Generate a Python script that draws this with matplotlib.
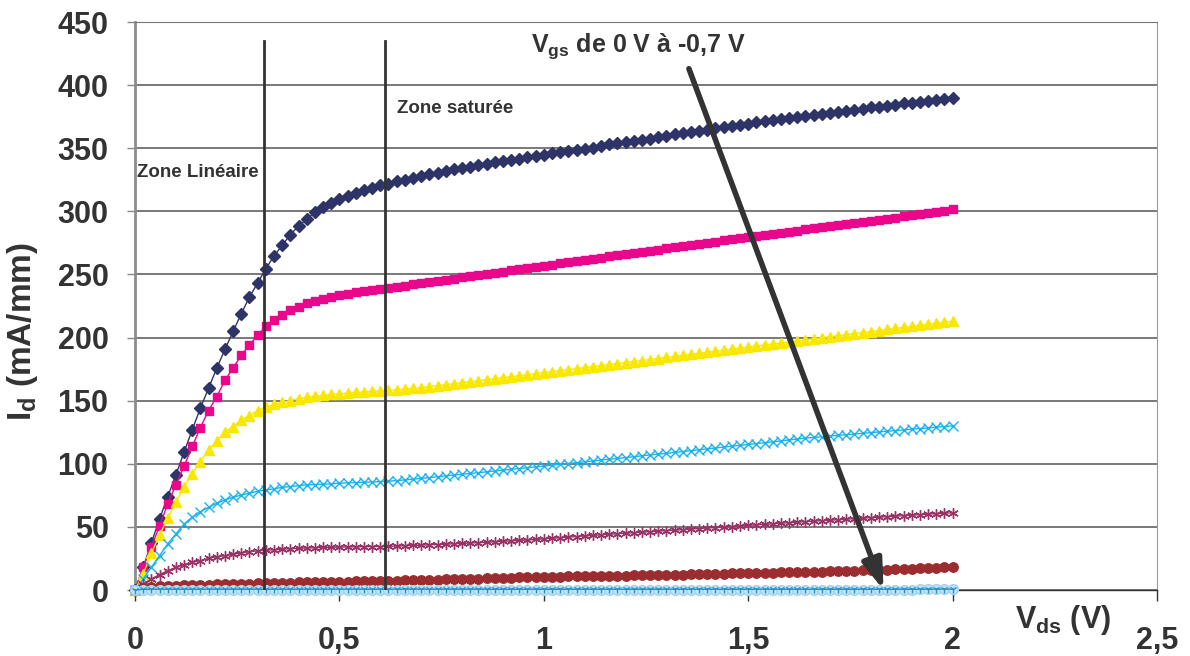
import numpy as np
import matplotlib.pyplot as plt

plt.rcParams['font.family'] = ['Liberation Sans', 'DejaVu Sans']
plt.rcParams['font.weight'] = 'bold'
plt.rcParams['axes.labelweight'] = 'bold'
plt.rcParams['mathtext.fontset'] = 'custom'
plt.rcParams['mathtext.rm'] = 'Liberation Sans:bold'
plt.rcParams['mathtext.bf'] = 'Liberation Sans:bold'

# Balayage en Vds (V), pas de 20 mV
vds = np.round(np.arange(0, 2.0001, 0.02), 2)

# Id (mA/mm) pour Vgs = 0 V ... -0,7 V
id_vgs_0 = [
    0, 18.0, 37.3, 56.3, 74.0, 91.2, 109.2, 126.9, 144.1, 159.9,
    175.8, 190.6, 204.9, 218.9, 232.1, 243.2, 254.6, 264.6, 273.1, 281.5,
    288.4, 293.7, 299.5, 303.7, 306.6, 309.8, 312.4, 314.8, 316.7, 318.8,
    320.5, 321.6, 323.7, 325.0, 326.3, 327.9, 329.2, 330.3, 332.1, 333.4,
    334.2, 335.5, 336.6, 337.6, 338.7, 339.5, 340.3, 341.8, 342.9, 343.9,
    345.0, 346.1, 346.8, 347.6, 348.7, 349.5, 350.5, 352.1, 353.2, 354.2,
    355.0, 356.1, 356.8, 357.6, 358.7, 359.8, 361.1, 362.1, 363.2, 363.9,
    364.7, 365.8, 366.6, 367.6, 368.4, 369.5, 370.5, 371.3, 372.1, 373.2,
    373.9, 375.0, 375.8, 376.1, 377.1, 377.9, 378.9, 379.7, 380.5, 381.3,
    382.4, 382.9, 383.7, 384.5, 385.5, 386.1, 386.8, 387.6, 388.4, 389.2,
    390.0,
]
id_vgs_01 = [
    0, 18.0, 34.4, 50.5, 68.2, 83.5, 98.1, 113.7, 128.7, 142.2,
    153.3, 166.0, 176.1, 185.8, 194.3, 201.7, 208.8, 214.1, 218.1, 221.5,
    224.2, 227.1, 228.9, 230.8, 232.1, 233.4, 234.7, 236.1, 236.9, 237.9,
    238.7, 239.5, 240.0, 241.1, 242.1, 243.0, 243.9, 244.8, 245.7, 246.7,
    247.6, 248.5, 249.5, 250.4, 251.3, 252.2, 253.2, 254.1, 255.0, 256.0,
    256.9, 257.8, 258.7, 259.7, 260.6, 261.5, 262.4, 263.3, 264.3, 265.2,
    266.1, 267.0, 267.9, 268.8, 269.7, 270.6, 271.5, 272.4, 273.3, 274.2,
    275.1, 276.0, 276.9, 277.8, 278.6, 279.5, 280.4, 281.3, 282.2, 283.0,
    283.9, 284.8, 285.7, 286.5, 287.4, 288.3, 289.1, 290.0, 290.9, 291.7,
    292.6, 293.4, 294.3, 295.1, 296.0, 296.9, 297.8, 298.7, 299.6, 300.5,
    301.5,
]
id_vgs_02 = [
    0, 12.7, 29.1, 43.6, 56.8, 69.5, 81.9, 91.9, 101.8, 111.0,
    118.4, 125.0, 129.5, 134.8, 138.2, 142.2, 144.9, 147.0, 148.8, 150.1,
    151.5, 152.8, 153.6, 154.1, 154.9, 155.4, 156.0, 156.5, 156.8, 157.3,
    157.6, 158.1, 158.6, 159.1, 159.7, 160.4, 161.2, 162.0, 162.7, 163.5,
    164.3, 165.0, 165.8, 166.6, 167.4, 168.2, 169.0, 169.8, 170.6, 171.4,
    172.2, 173.0, 173.8, 174.6, 175.4, 176.2, 177.0, 177.8, 178.6, 179.4,
    180.2, 181.0, 181.8, 182.6, 183.4, 184.2, 185.0, 185.9, 186.7, 187.5,
    188.3, 189.1, 190.0, 190.8, 191.6, 192.4, 193.2, 194.1, 194.9, 195.7,
    196.5, 197.3, 198.2, 199.0, 199.8, 200.6, 201.4, 202.3, 203.1, 203.9,
    204.7, 205.5, 206.4, 207.2, 208.0, 208.8, 209.6, 210.5, 211.3, 212.1,
    212.9,
]
id_vgs_03 = [
    0, 8.7, 18.0, 27.2, 36.5, 44.4, 52.3, 57.6, 62.1, 65.6,
    68.7, 71.4, 73.5, 75.3, 76.7, 78.2, 79.3, 80.1, 81.4, 81.9,
    82.7, 83.3, 83.5, 83.8, 84.1, 84.6, 84.9, 85.1, 85.4, 85.6,
    85.9, 86.2, 86.7, 87.2, 87.8, 88.4, 89.1, 89.7, 90.4, 91.0,
    91.7, 92.3, 93.0, 93.6, 94.3, 94.9, 95.6, 96.2, 96.9, 97.6,
    98.2, 98.9, 99.6, 100.2, 100.9, 101.6, 102.2, 102.9, 103.6, 104.3,
    104.9, 105.6, 106.3, 107.0, 107.6, 108.3, 109.0, 109.7, 110.4, 111.1,
    111.8, 112.5, 113.2, 113.9, 114.6, 115.3, 116.0, 116.7, 117.4, 118.1,
    118.9, 119.6, 120.3, 120.9, 121.4, 122.0, 122.5, 123.0, 123.6, 124.1,
    124.7, 125.2, 125.8, 126.3, 126.8, 127.4, 127.9, 128.4, 129.0, 129.5,
    130.0,
]
id_vgs_04 = [
    0, 4.8, 8.7, 12.2, 15.3, 18.0, 20.1, 21.9, 23.3, 25.1,
    26.4, 27.2, 28.5, 29.3, 30.4, 31.0, 31.5, 31.9, 32.3, 32.7,
    33.0, 33.3, 33.5, 33.7, 33.9, 34.0, 34.1, 34.2, 34.3, 34.4,
    34.4, 34.6, 34.8, 35.0, 35.3, 35.5, 35.8, 36.0, 36.3, 36.6,
    36.9, 37.2, 37.5, 37.8, 38.2, 38.6, 38.9, 39.3, 39.6, 40.1,
    40.5, 41.0, 41.4, 41.9, 42.3, 42.8, 43.2, 43.7, 44.1, 44.6,
    45.0, 45.4, 45.8, 46.2, 46.6, 47.0, 47.4, 47.8, 48.3, 48.7,
    49.1, 49.5, 49.9, 50.3, 50.8, 51.2, 51.6, 52.0, 52.4, 52.9,
    53.3, 53.7, 54.1, 54.5, 54.9, 55.3, 55.7, 56.1, 56.5, 56.9,
    57.3, 57.7, 58.1, 58.5, 58.9, 59.3, 59.7, 60.1, 60.5, 60.8,
    61.1,
]
id_vgs_05 = [
    0, 1.5, 2.3, 2.8, 3.1, 3.4, 3.6, 3.8, 4.0, 4.2,
    4.4, 4.6, 4.8, 5.0, 5.1, 5.3, 5.4, 5.6, 5.7, 5.8,
    6.0, 6.1, 6.2, 6.4, 6.5, 6.6, 6.7, 6.8, 6.9, 7.0,
    7.1, 7.2, 7.4, 7.6, 7.7, 7.9, 8.1, 8.3, 8.4, 8.6,
    8.8, 9.0, 9.1, 9.3, 9.5, 9.7, 9.8, 10.0, 10.2, 10.3,
    10.4, 10.5, 10.6, 10.7, 10.8, 10.9, 11.0, 11.1, 11.2, 11.3,
    11.4, 11.5, 11.6, 11.7, 11.8, 11.9, 12.1, 12.2, 12.4, 12.5,
    12.7, 12.8, 13.0, 13.1, 13.2, 13.4, 13.5, 13.7, 13.8, 13.9,
    14.0, 14.1, 14.2, 14.4, 14.6, 14.8, 15.0, 15.2, 15.4, 15.6,
    15.8, 16.0, 16.2, 16.4, 16.6, 16.9, 17.1, 17.3, 17.6, 17.9,
    18.2,
]
id_vgs_06 = [
    0, 0.2, 0.2, 0.3, 0.3, 0.3, 0.3, 0.3, 0.3, 0.3,
    0.3, 0.3, 0.3, 0.3, 0.3, 0.3, 0.3, 0.3, 0.3, 0.3,
    0.3, 0.3, 0.3, 0.3, 0.3, 0.3, 0.3, 0.3, 0.3, 0.3,
    0.3, 0.3, 0.3, 0.3, 0.3, 0.3, 0.3, 0.3, 0.3, 0.3,
    0.3, 0.3, 0.3, 0.3, 0.3, 0.3, 0.3, 0.3, 0.3, 0.3,
    0.3, 0.3, 0.3, 0.3, 0.3, 0.3, 0.3, 0.3, 0.3, 0.3,
    0.3, 0.3, 0.3, 0.3, 0.3, 0.3, 0.3, 0.3, 0.3, 0.3,
    0.3, 0.3, 0.3, 0.3, 0.3, 0.3, 0.3, 0.3, 0.3, 0.3,
    0.3, 0.3, 0.3, 0.3, 0.3, 0.3, 0.3, 0.3, 0.3, 0.3,
    0.3, 0.3, 0.3, 0.3, 0.3, 0.3, 0.4, 0.4, 0.4, 0.4,
    0.4,
]
id_vgs_07 = [
    0, 0.5, 0.6, 0.6, 0.6, 0.6, 0.6, 0.6, 0.6, 0.6,
    0.6, 0.6, 0.6, 0.6, 0.6, 0.6, 0.6, 0.6, 0.6, 0.6,
    0.6, 0.6, 0.6, 0.6, 0.6, 0.6, 0.6, 0.6, 0.6, 0.6,
    0.6, 0.6, 0.6, 0.6, 0.6, 0.6, 0.6, 0.6, 0.6, 0.6,
    0.6, 0.6, 0.6, 0.6, 0.6, 0.6, 0.6, 0.6, 0.6, 0.6,
    0.6, 0.6, 0.6, 0.6, 0.6, 0.6, 0.6, 0.6, 0.6, 0.6,
    0.6, 0.6, 0.6, 0.6, 0.6, 0.6, 0.6, 0.6, 0.6, 0.6,
    0.6, 0.6, 0.6, 0.6, 0.6, 0.6, 0.6, 0.6, 0.6, 0.6,
    0.6, 0.6, 0.6, 0.6, 0.6, 0.6, 0.6, 0.6, 0.6, 0.6,
    0.6, 0.6, 0.6, 0.6, 0.6, 0.6, 0.6, 0.6, 0.7, 0.7,
    0.7,
]

# limites des zones et fleche du sens de Vgs
zone_limits = [0.315, 0.612]
zone_top = 435
arrow_start = (1.355, 413)
arrow_end = (1.831, 0)

fig = plt.figure(figsize=(11.9, 6.56), dpi=100)
ax = fig.add_axes([135 / 1190, 66 / 656, 1022 / 1190, 568 / 656])

dark = '#333333'

# (valeurs, couleur, marqueur, taille, remplissage, bord)
styles = [
    (id_vgs_0, '#2f3468', 'D', 5.8, '#2f3468', '#2f3468'),
    (id_vgs_01, '#e9078b', 's', 6, '#e9078b', '#e9078b'),
    (id_vgs_02, '#f8e800', '^', 6.5, '#f8e800', '#f8e800'),
    (id_vgs_03, '#1ab1ec', 'x', 7, '#1ab1ec', '#1ab1ec'),
    (id_vgs_04, '#993366', (6, 2, 0), 7.5, '#993366', '#993366'),
    (id_vgs_05, '#9b2d30', 'o', 6.8, '#9b2d30', '#9b2d30'),
    (id_vgs_06, '#9fd3f0', 'o', 7, '#bfe3f7', '#9fd3f0'),
    (id_vgs_07, '#2f8fc0', '1', 5.5, '#2f8fc0', '#2f8fc0'),
]
for i, (vals, col, mk, ms, fc, ec) in enumerate(styles):
    ax.plot(vds, vals, color=col, lw=1.0, marker=mk, markersize=ms,
            markerfacecolor=fc, markeredgecolor=ec, markeredgewidth=1.0,
            clip_on=False, zorder=3 + i * 0.1)

for xl in zone_limits:
    ax.plot([xl, xl], [0, zone_top], color=dark, lw=2, zorder=5)

ax.annotate('', xy=arrow_end, xytext=arrow_start,
            arrowprops=dict(arrowstyle='-|>,head_length=0.9,head_width=0.3',
                            color=dark, lw=4, mutation_scale=20,
                            shrinkA=0, shrinkB=0),
            zorder=6)

ax.text(0.005, 331, 'Zone Linéaire', fontsize=13.5, color=dark, va='center', ha='left')
ax.text(0.64, 381.5, 'Zone saturée', fontsize=13.5, color=dark, va='center', ha='left')
ax.text(0.969, 426, r'V$_{\mathrm{gs}}$ de 0 V à -0,7 V', fontsize=18, color=dark,
        va='baseline', ha='left')
ax.text(2.27, -30, r'V$_{\mathrm{ds}}$ (V)', fontsize=22, color=dark,
        va='baseline', ha='center')

ax.set_xlim(0, 2.5)
ax.set_ylim(0, 450)
ax.set_xticks([0, 0.5, 1, 1.5, 2, 2.5])
ax.set_xticklabels(['0', '0,5', '1', '1,5', '2', '2,5'])
ax.set_yticks(np.arange(0, 451, 50))
ax.tick_params(axis='x', direction='out', length=8, width=1, color=dark,
               labelsize=22, labelcolor=dark, pad=18)
ax.tick_params(axis='y', direction='out', length=6, width=1, color='#888888',
               labelsize=22, labelcolor=dark, pad=13)
ax.set_ylabel(r'I$_{\mathrm{d}}$ (mA/mm)', fontsize=24, fontweight='bold', color=dark)
ax.yaxis.set_label_coords(-0.093, 0.455)

ax.grid(axis='y', color='#555555', lw=1.1)
ax.set_axisbelow(True)
ax.spines['left'].set_color('#8c8c8c')
ax.spines['left'].set_linewidth(2)
ax.spines['bottom'].set_color(dark)
ax.spines['bottom'].set_linewidth(1)
ax.spines['right'].set_color('#9a9a9a')
ax.spines['top'].set_color('#777777')

fig.savefig('out.png', dpi=100, facecolor='white')
